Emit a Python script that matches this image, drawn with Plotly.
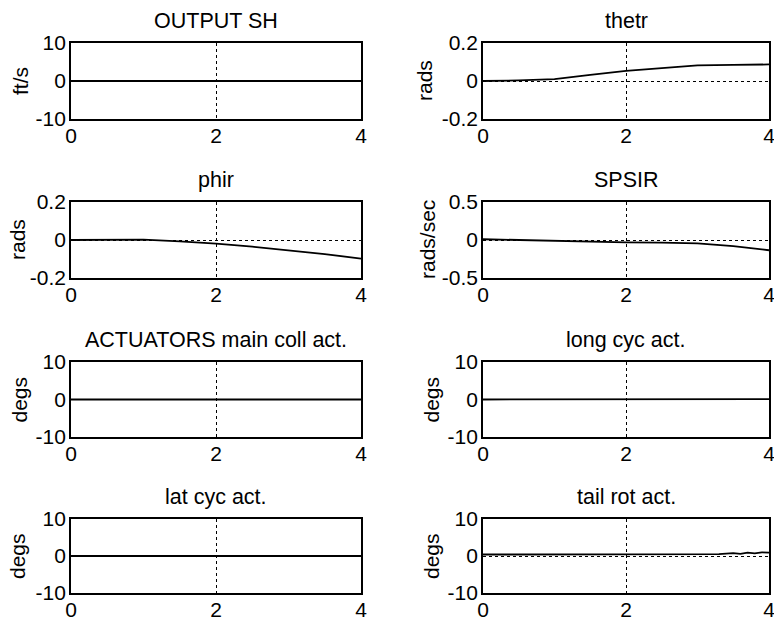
import plotly.graph_objects as go

# ---- data ----
t_flat = [0, 1, 2, 3, 4]
output_sh = [0, 0, 0, 0, 0]

t_thetr = [0, 0.5, 1.0, 1.25, 1.5, 2.0, 2.5, 2.75, 3.0, 3.5, 4.0]
thetr = [0, 0.003, 0.01, 0.022, 0.032, 0.053, 0.068, 0.078, 0.082, 0.085, 0.087]

t_phir = [0, 0.5, 1.0, 1.5, 2.0, 2.5, 3.0, 3.5, 4.0]
phir = [0, 0.002, 0.002, -0.007, -0.019, -0.035, -0.054, -0.074, -0.098]

t_spsir = [0, 0.5, 1.0, 1.5, 2.0, 2.5, 3.0, 3.5, 4.0]
spsir = [0.01, 0.0, -0.015, -0.02, -0.03, -0.035, -0.045, -0.08, -0.135]

main_coll = [0, 0, 0, 0, 0]
long_cyc = [0, 0, 0.1, 0.1, 0.1]
lat_cyc = [0, 0, 0, 0, 0]

t_tail = [0, 1, 2, 3, 3.3, 3.5, 3.6, 3.7, 3.8, 3.9, 4.0]
tail_rot = [0.4, 0.4, 0.5, 0.6, 0.5, 0.8, 0.6, 0.9, 0.7, 1.0, 0.9]

titles = ["OUTPUT SH", "thetr", "phir", "SPSIR",
          "ACTUATORS main coll act.", "long cyc act.", "lat cyc act.", "tail rot act."]
ylabels = ["ft/s", "rads", "rads", "rads/sec", "degs", "degs", "degs", "degs"]
yranges = [[-10, 10], [-0.2, 0.2], [-0.2, 0.2], [-0.5, 0.5],
           [-10, 10], [-10, 10], [-10, 10], [-10, 10]]
ytickvals = [[-10, 0, 10], [-0.2, 0, 0.2], [-0.2, 0, 0.2], [-0.5, 0, 0.5],
             [-10, 0, 10], [-10, 0, 10], [-10, 0, 10], [-10, 0, 10]]
yticktext = [["-10", "0", "10"], ["-0.2", "0", "0.2"], ["-0.2", "0", "0.2"], ["-0.5", "0", "0.5"],
             ["-10", "0", "10"], ["-10", "0", "10"], ["-10", "0", "10"], ["-10", "0", "10"]]
xtickvals = [0, 2, 4]
xticktext = ["0", "2", "4"]

series = [(t_flat, output_sh), (t_thetr, thetr), (t_phir, phir), (t_spsir, spsir),
          (t_flat, main_coll), (t_flat, long_cyc), (t_flat, lat_cyc), (t_tail, tail_rot)]

# ---- layout geometry (paper fractions) ----
W, H = 774, 620
col_px = [(71, 361), (483, 769)]
row_px = [(43, 119), (202, 278), (362, 437), (519, 593)]
ylab_x = [[21, 17, 19, 17], [425, 427, 431, 431]]

FONT = "Liberation Sans, Arial, Helvetica, sans-serif"
FS = 21
FS_TITLE = 21.5
fig = go.Figure()
annotations = []
layout = dict(
    width=W, height=H, margin=dict(l=0, r=0, t=0, b=0, pad=0, autoexpand=False),
    paper_bgcolor="white", plot_bgcolor="white", showlegend=False,
    font=dict(family=FONT, size=FS, color="black"),
)

for i in range(8):
    r, c = divmod(i, 2)
    n = i + 1
    xa = "xaxis" if n == 1 else f"xaxis{n}"
    ya = "yaxis" if n == 1 else f"yaxis{n}"
    xref = "x" if n == 1 else f"x{n}"
    yref = "y" if n == 1 else f"y{n}"
    x0, x1 = col_px[c]
    top, bot = row_px[r]
    xd = [x0 / W, x1 / W]
    yd = [1 - bot / H, 1 - top / H]
    axis_common = dict(showline=True, mirror=True, linecolor="black", linewidth=1.8,
                       showgrid=True, gridcolor="black", griddash="dot", gridwidth=1.2,
                       zeroline=False, ticks="", ticklabeloverflow="allow", automargin=False,
                       tickfont=dict(family=FONT, size=FS, color="black"))
    layout[xa] = dict(domain=xd, range=[0, 4], anchor=yref, tickvals=xtickvals,
                      ticktext=xticktext, ticklabelstandoff=-3, **axis_common)
    layout[ya] = dict(domain=yd, range=yranges[i], anchor=xref, tickvals=ytickvals[i],
                      ticktext=yticktext[i], ticklabelstandoff=-1, **axis_common)
    tx, ty = series[i]
    fig.add_trace(go.Scatter(x=tx, y=ty, mode="lines", line=dict(color="black", width=1.8),
                             xaxis=xref, yaxis=yref, hoverinfo="skip", cliponaxis=False))
    annotations.append(dict(text=titles[i], x=(xd[0] + xd[1]) / 2, y=yd[1], xref="paper",
                            yref="paper", xanchor="center", yanchor="bottom", yshift=8,
                            showarrow=False, font=dict(family=FONT, size=FS_TITLE, color="black")))
    annotations.append(dict(text=ylabels[i], x=ylab_x[c][r] / W, y=(yd[0] + yd[1]) / 2,
                            xref="paper", yref="paper", xanchor="center", yanchor="middle",
                            textangle=-90, showarrow=False,
                            font=dict(family=FONT, size=FS, color="black")))

layout["annotations"] = annotations
fig.update_layout(**layout)
fig.write_html("out.html", config={"displayModeBar": False},
               post_script="document.body.style.margin='0';")
